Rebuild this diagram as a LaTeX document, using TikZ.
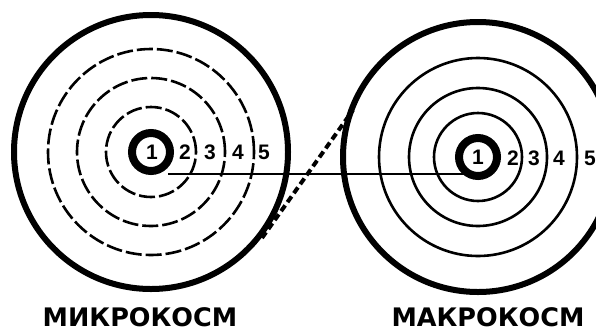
\documentclass[tikz,border=0pt]{standalone}
\usepackage{fontspec}
\usepackage{tikz}
\usetikzlibrary{calc}
\newfontfamily\capfont{DejaVu Sans}
\newfontfamily\numfont{Liberation Sans}
\tikzset{
    ringcore/.style={draw=black, line width=8pt},
    ringouter/.style={draw=black, line width=6pt},
    ringdash/.style={draw=black, line width=2.6pt, dash pattern=on 16pt off 4pt},
    ringthin/.style={draw=black, line width=2.6pt},
    zonelbl/.style={font=\numfont\bfseries\fontsize{21}{21}\selectfont, inner sep=0pt},
    worldlbl/.style={font=\capfont\bfseries\fontsize{25.5}{25.5}\selectfont, inner sep=0pt},
    axisln/.style={draw=black, line width=2.4pt},
    tangln/.style={draw=black, line width=4pt, dash pattern=on 7pt off 4pt},
}
\begin{document}
\begin{tikzpicture}[x=1pt, y=-1pt]

    \clip (0,0) rectangle (596,335);
    \fill [white] (0,0) rectangle (596,335);

    % ── Микрокосм ─────────────────────────────────────────
    \coordinate (micro) at (151,152);
    \draw [ringcore]  (micro) circle [radius=19pt];
    \draw [ringdash]  (micro) circle [radius=45pt];
    \draw [ringdash]  (micro) circle [radius=74pt];
    \draw [ringdash]  (micro) circle [radius=103pt];
    \draw [ringouter] (micro) circle [radius=137pt];

    \node [zonelbl] (mi1) at (152,152) {1};
    \node [zonelbl] (mi2) at (185,152) {2};
    \node [zonelbl] (mi3) at (210,152) {3};
    \node [zonelbl] (mi4) at (238,152) {4};
    \node [zonelbl] (mi5) at (264,152) {5};

    % ── Макрокосм ─────────────────────────────────────────
    \coordinate (macro) at (478,157);
    \draw [ringcore]  (macro) circle [radius=19pt];
    \draw [ringthin]  (macro) circle [radius=44pt];
    \draw [ringthin]  (macro) circle [radius=69pt];
    \draw [ringthin]  (macro) circle [radius=99pt];
    \draw [ringouter] (macro) circle [radius=135pt];

    \node [zonelbl] (ma1) at (478,157) {1};
    \node [zonelbl] (ma2) at (513,158) {2};
    \node [zonelbl] (ma3) at (534,158) {3};
    \node [zonelbl] (ma4) at (559,158) {4};
    \node [zonelbl] (ma5) at (590,158) {5};

    % ── связи ─────────────────────────────────────────────
    \coordinate (axisL) at (168,174);
    \coordinate (axisR) at (470,174);
    \draw [axisln] (axisL) -- (axisR);

    \coordinate (tangA) at (262,238);
    \coordinate (tangB) at (353,110);
    \draw [tangln] (tangA) -- (tangB);

    % ── подписи ───────────────────────────────────────────
    \node [worldlbl] (microname) at (140,317) {МИКРОКОСМ};
    \node [worldlbl] (macroname) at (488,317) {МАКРОКОСМ};

\end{tikzpicture}
\end{document}
